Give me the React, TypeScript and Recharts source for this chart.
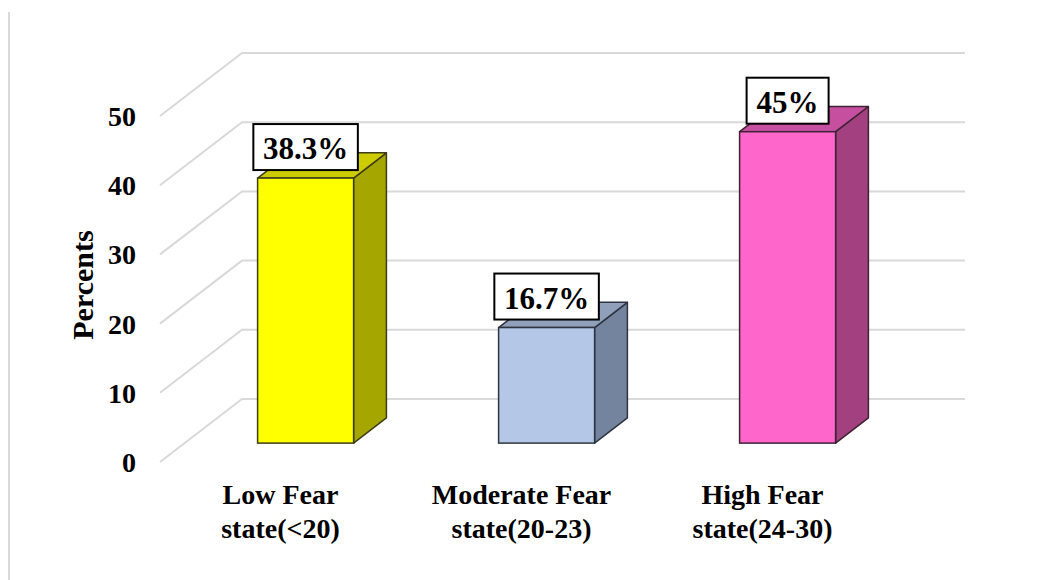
import React from "react";
import { Bar, BarChart, CartesianGrid, XAxis, YAxis, Label } from "recharts";

const categories = ["Low Fear state(<20)", "Moderate Fear state(20-23)", "High Fear state(24-30)"];
const categoryLines = [
  ["Low Fear", "state(<20)"],
  ["Moderate Fear", "state(20-23)"],
  ["High Fear", "state(24-30)"],
];
const percents = [38.3, 16.7, 45];
const valueLabels = ["38.3%", "16.7%", "45%"];
const yTicks = [0, 10, 20, 30, 40, 50];

const frontColors = ["#FFFF00", "#B4C7E7", "#FF66CC"];
const topColors = ["#CCCC00", "#909FBA", "#C6509F"];
const sideColors = ["#A6A600", "#74839E", "#A3407F"];
const edgeColors = ["#3d3d1a", "#2f3540", "#3d2233"];

const data = categories.map((name, i) => ({ name, value: percents[i] }));

const FONT = "'Times New Roman', 'Liberation Serif', serif";

// depth of the floor (front edge -> back wall)
const FLOOR_DX = 82;
const FLOOR_DY = -63;
// bar sits at ~30% of the floor depth and is ~40% deep
const BAR_OFF_X = FLOOR_DX * 0.3;
const BAR_OFF_Y = FLOOR_DY * 0.3;
const BAR_DX = FLOOR_DX * 0.4;
const BAR_DY = FLOOR_DY * 0.4;

function textWidth(s: string, size: number) {
  let w = 0;
  for (const c of s) {
    if (c === ".") w += 0.25;
    else if (c === "%") w += 1.0;
    else w += 0.5;
  }
  return w * size;
}

function Box3D(props: any) {
  const { x, y, width, height, index } = props;
  const fx = x + BAR_OFF_X;
  const fy = y + BAR_OFF_Y;
  const stroke = edgeColors[index];
  const top = `M${fx},${fy} L${fx + BAR_DX},${fy + BAR_DY} L${fx + width + BAR_DX},${fy + BAR_DY} L${fx + width},${fy} Z`;
  const side = `M${fx + width},${fy} L${fx + width + BAR_DX},${fy + BAR_DY} L${fx + width + BAR_DX},${fy + height + BAR_DY} L${fx + width},${fy + height} Z`;

  const label = valueLabels[index];
  const fs = 31;
  const bw = textWidth(label, 30) + 22;
  const bh = 46;
  const cx = fx + width / 2;
  const by = fy - 8 - bh;

  return (
    <g>
      <path d={side} fill={sideColors[index]} stroke={stroke} strokeWidth={1.5} strokeLinejoin="round" />
      <path d={top} fill={topColors[index]} stroke={stroke} strokeWidth={1.5} strokeLinejoin="round" />
      <rect x={fx} y={fy} width={width} height={height} fill={frontColors[index]} stroke={stroke} strokeWidth={1.5} />
      <rect x={cx - bw / 2} y={by} width={bw} height={bh} fill="#ffffff" stroke="#000000" strokeWidth={2} />
      <text x={cx} y={by + bh - 11} textAnchor="middle" fontFamily={FONT} fontWeight="bold" fontSize={fs} fill="#000">
        {label}
      </text>
    </g>
  );
}

function GridLine(p: any) {
  const d = `M${p.x1},${p.y1} L${p.x1 + FLOOR_DX},${p.y1 + FLOOR_DY} L${p.x2 + FLOOR_DX},${p.y2 + FLOOR_DY}`;
  return <path key={p.key} d={d} stroke="#d9d9d9" strokeWidth={2} fill="none" />;
}

function CategoryTick(props: any) {
  const { x, y, index } = props;
  const lines = categoryLines[index] ?? [String(props.payload?.value)];
  return (
    <text x={x} y={y} textAnchor="middle" fontFamily={FONT} fontWeight="bold" fontSize={28} fill="#000">
      {lines.map((l, i) => (
        <tspan key={i} x={x} dy={i === 0 ? 42 : 34}>
          {l}
        </tspan>
      ))}
    </text>
  );
}

export default function App() {
  return (
    <div style={{ position: "absolute", left: 0, top: 0, width: 1046, height: 580, background: "#fff" }}>
      <div style={{ position: "absolute", left: 8, top: 12, width: 2, height: 568, background: "#d9d9d9" }} />
      <BarChart
        width={1046}
        height={580}
        data={data}
        margin={{ top: 116, right: 163, left: 60, bottom: 38 }}
        barSize={96}
      >
        <CartesianGrid vertical={false} horizontal={GridLine as any} />
        <XAxis
          dataKey="name"
          axisLine={false}
          tickLine={false}
          tickSize={0}
          tickMargin={0}
          height={80}
          interval={0}
          tick={<CategoryTick />}
        />
        <YAxis
          domain={[0, 50]}
          ticks={yTicks}
          width={100}
          axisLine={false}
          tickLine={false}
          tickSize={0}
          tickMargin={24}
          tick={{ fontFamily: FONT, fontWeight: "bold", fontSize: 28, fill: "#000" }}
        >
          <Label
            content={(p: any) => {
              const vb = p.viewBox;
              const cx = vb.x + 22;
              const cy = vb.y + vb.height / 2 - 4;
              return (
                <text
                  x={cx}
                  y={cy}
                  transform={`rotate(-90, ${cx}, ${cy})`}
                  textAnchor="middle"
                  dominantBaseline="central"
                  fontFamily={FONT}
                  fontWeight="bold"
                  fontSize={30}
                  fill="#000"
                >
                  Percents
                </text>
              );
            }}
          />
        </YAxis>
        <Bar dataKey="value" shape={<Box3D />} isAnimationActive={false} />
      </BarChart>
    </div>
  );
}
